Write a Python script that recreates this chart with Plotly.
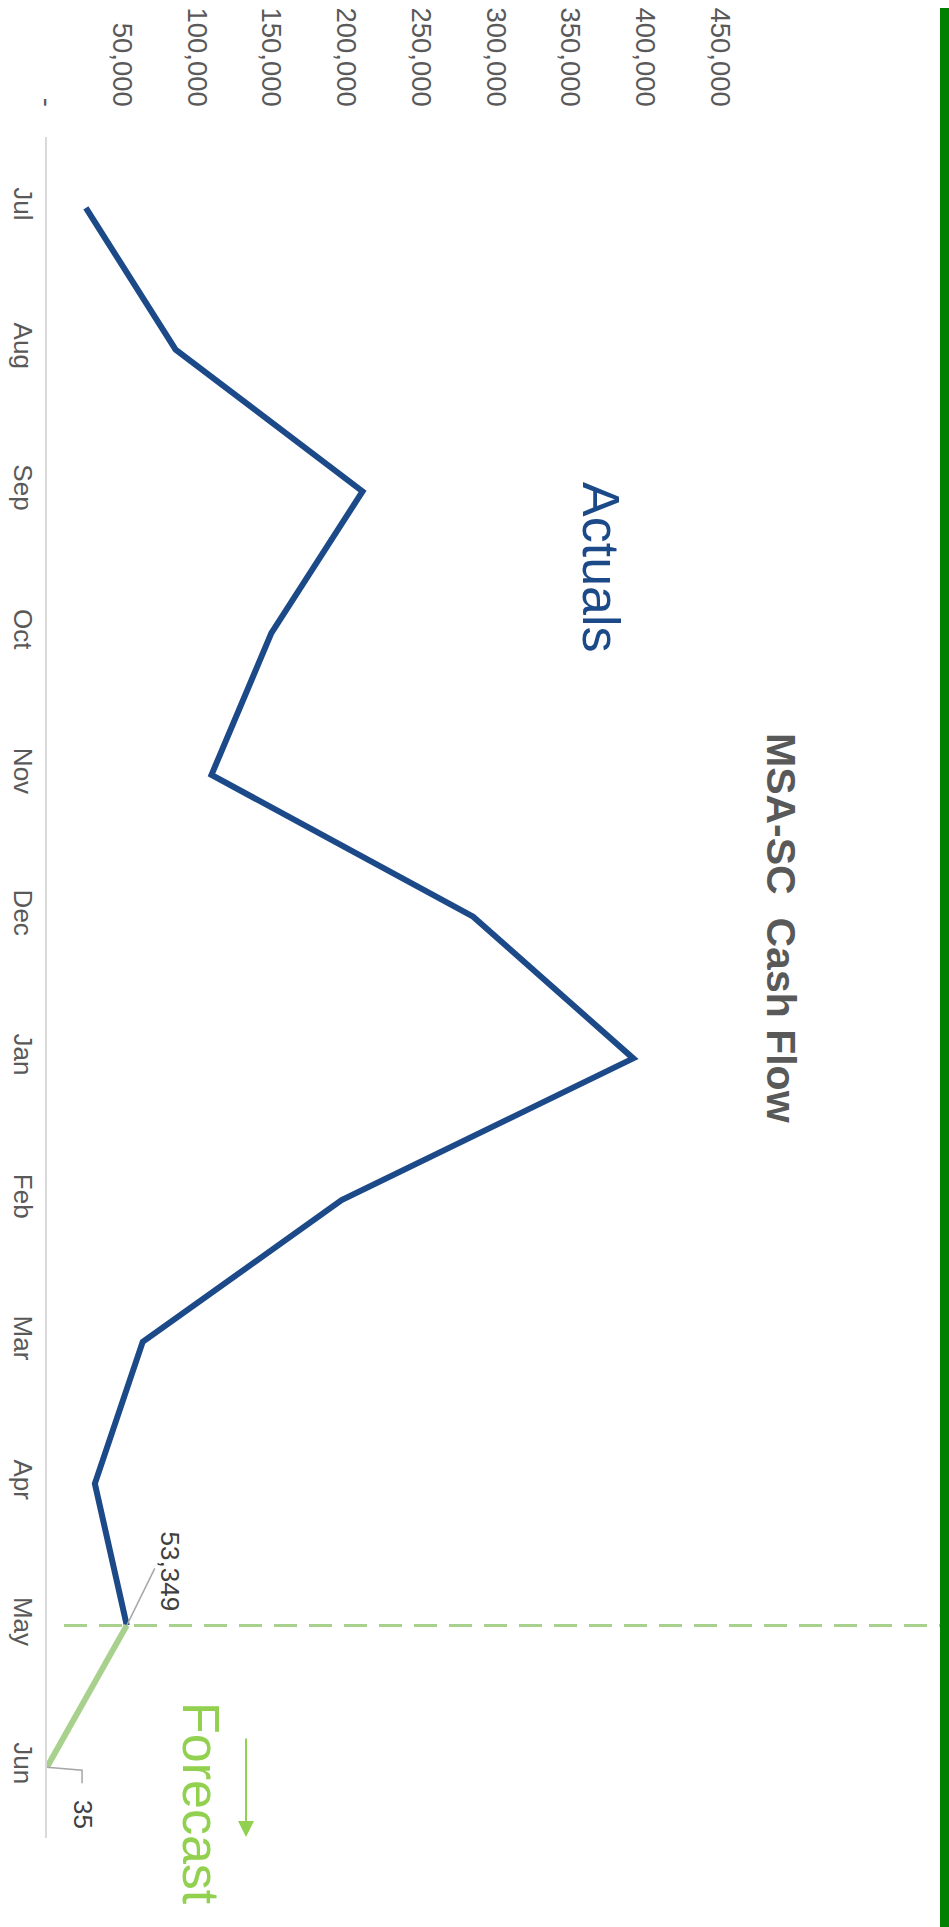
import plotly.graph_objects as go

# Monthly cash flow, fiscal year Jul-Jun
months = ["Jul", "Aug", "Sep", "Oct", "Nov", "Dec", "Jan", "Feb", "Mar", "Apr", "May", "Jun"]
actual_months = months[:11]
actual_values = [26000, 86000, 211000, 150000, 110000, 285000, 392000, 197000, 64000, 32000, 53349]
forecast_months = ["May", "Jun"]
forecast_values = [53349, 35]
value_ticks = [0, 50000, 100000, 150000, 200000, 250000, 300000, 350000, 400000, 450000]
value_ticktext = ["-" if v == 0 else f"{v:,}" for v in value_ticks]

W, H = 949, 1927
ML, MR, MT, MB = 47, 8, 137, 89
PW, PH = W - ML - MR, H - MT - MB

BLUE = "#1C4A89"
LIGHT_GREEN = "#A9D18E"
BRIGHT_GREEN = "#92D050"
GREY_TEXT = "#595959"
FONT = "Liberation Sans, Arial, sans-serif"


def px(x):
    return (x - ML) / PW


def py(y):
    return (H - MB - y) / PH


fig = go.Figure()

fig.add_trace(go.Scatter(
    x=actual_values, y=actual_months, mode="lines",
    line=dict(color=BLUE, width=6), hoverinfo="skip", showlegend=False,
))
fig.add_trace(go.Scatter(
    x=forecast_values, y=forecast_months, mode="lines",
    line=dict(color=LIGHT_GREEN, width=6), hoverinfo="skip", showlegend=False,
))

# data labels for the forecast start/end points
label_specs = [
    (forecast_months[0], forecast_values[0], 43, 54),
    (forecast_months[1], forecast_values[1], 36, -47),
]
for m, v, dx, dy in label_specs:
    fig.add_annotation(
        x=v, y=m, xref="x", yref="y", text=f"{v:,}", showarrow=False,
        textangle=90, xshift=dx, yshift=dy,
        font=dict(family=FONT, size=26, color="#404040"),
    )

shapes = []
# leader lines to the data labels
shapes.append(dict(
    type="path", xref="x", yref="y", xsizemode="pixel", ysizemode="pixel",
    xanchor=forecast_values[0], yanchor=months.index("May"),
    path="M0,0 L28,57", line=dict(color="#A6A6A6", width=1.5),
))
shapes.append(dict(
    type="path", xref="x", yref="y", xsizemode="pixel", ysizemode="pixel",
    xanchor=forecast_values[1], yanchor=months.index("Jun"),
    path="M0,0 L35,-3 L35,-16", line=dict(color="#A6A6A6", width=1.5),
))
# actuals / forecast divider
shapes.append(dict(
    type="line", xref="paper", yref="y",
    x0=px(64), x1=px(941), y0=months.index("May"), y1=months.index("May"),
    line=dict(color=LIGHT_GREEN, width=3, dash="23px,12px"),
))
# green edge band
shapes.append(dict(
    type="rect", xref="paper", yref="paper",
    x0=px(940), x1=px(952), y0=py(8), y1=py(1935),
    fillcolor="#008000", line=dict(width=0), layer="above",
))

annotations = [
    dict(text="<b>MSA-SC  Cash Flow</b>", x=px(781), y=py(928), xref="paper", yref="paper",
         showarrow=False, textangle=90, font=dict(family=FONT, size=41, color=GREY_TEXT),
         xanchor="center", yanchor="middle"),
    dict(text="Actuals", x=px(601), y=py(567), xref="paper", yref="paper",
         showarrow=False, textangle=90, font=dict(family=FONT, size=52, color=BLUE),
         xanchor="center", yanchor="middle"),
    dict(text="Forecast", x=px(201), y=py(1803), xref="paper", yref="paper",
         showarrow=False, textangle=90, font=dict(family=FONT, size=52, color=BRIGHT_GREEN),
         xanchor="center", yanchor="middle"),
    dict(text="", x=px(246), y=py(1837), xref="paper", yref="paper",
         ax=0, ay=-100, axref="pixel", ayref="pixel", showarrow=True,
         arrowhead=2, arrowsize=1.6, arrowwidth=2, arrowcolor=BRIGHT_GREEN),
]

fig.update_layout(
    width=W, height=H,
    margin=dict(l=ML, r=MR, t=MT, b=MB, pad=0),
    paper_bgcolor="white", plot_bgcolor="white",
    showlegend=False,
    shapes=shapes,
    xaxis=dict(
        range=[0, 597800], side="top", tickvals=value_ticks, ticktext=value_ticktext,
        tickangle=90, showgrid=False, zeroline=False, showline=False,
        ticks="", ticklabelstandoff=25, automargin=False,
        tickfont=dict(family=FONT, size=27.5, color=GREY_TEXT),
    ),
    yaxis=dict(
        type="category", categoryorder="array", categoryarray=months,
        range=[11.5, -0.5], tickangle=90, showgrid=False, zeroline=False,
        showline=True, linecolor="#D9D9D9", linewidth=2, ticks="",
        ticklabelstandoff=0, automargin=False,
        tickfont=dict(family=FONT, size=26, color=GREY_TEXT),
    ),
)
for a in annotations:
    fig.add_annotation(**a)

fig.write_html("out.html")
